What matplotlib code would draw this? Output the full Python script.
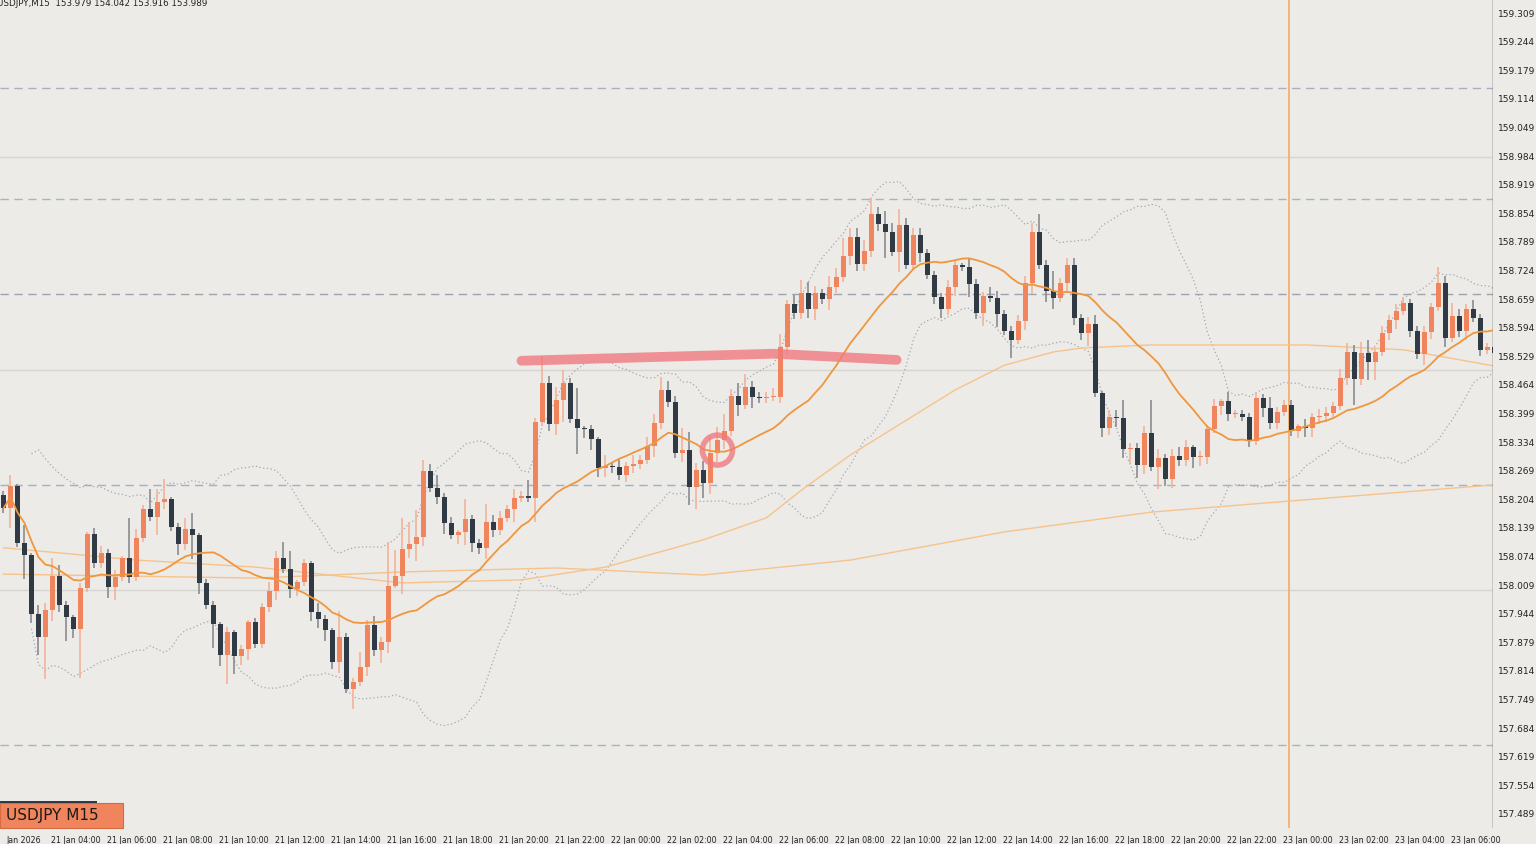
import numpy as np
import pandas as pd
import matplotlib
matplotlib.use("Agg")
import matplotlib.pyplot as plt
from matplotlib.patches import Ellipse, Rectangle

first_open = 158.215
closes = [158.186,158.236,158.107,158.080,157.946,157.893,157.955,158.032,157.966,157.939,
157.911,158.005,158.127,158.061,158.084,158.007,158.030,158.073,158.030,158.118,
158.184,158.166,158.200,158.207,158.143,158.105,158.139,158.125,158.016,157.966,
157.923,157.852,157.905,157.850,157.866,157.927,157.877,157.961,157.998,158.073,
158.048,158.002,158.018,158.061,157.950,157.934,157.909,157.836,157.893,157.775,
157.791,157.825,157.921,157.864,157.882,158.009,158.032,158.093,158.105,158.121,
158.271,158.232,158.211,158.152,158.125,158.132,158.161,158.107,158.096,158.155,
158.136,158.164,158.184,158.209,158.214,158.209,158.382,158.471,158.377,158.432,
158.471,158.389,158.368,158.366,158.343,158.277,158.282,158.280,158.261,158.282,
158.286,158.296,158.327,158.380,158.455,158.427,158.311,158.318,158.234,158.273,
158.243,158.311,158.341,158.361,158.441,158.421,158.461,158.439,158.436,158.439,
158.439,158.552,158.650,158.630,158.675,158.639,158.675,158.661,158.689,158.711,
158.759,158.802,158.741,158.771,158.855,158.832,158.814,158.768,158.830,158.739,
158.807,158.766,158.716,158.666,158.639,158.689,158.739,158.734,158.696,158.630,
158.668,158.664,158.627,158.589,158.568,158.611,158.698,158.814,158.739,158.680,
158.664,158.698,158.739,158.618,158.584,158.605,158.448,158.368,158.393,158.391,
158.321,158.323,158.284,158.357,158.280,158.300,158.252,158.305,158.296,158.325,
158.302,158.302,158.366,158.418,158.430,158.400,158.400,158.393,158.339,158.436,
158.414,158.380,158.405,158.421,158.361,158.373,158.368,158.393,158.396,158.402,
158.418,158.482,158.541,158.480,158.539,158.518,158.541,158.584,158.614,158.634,
158.652,158.589,158.536,158.586,158.643,158.698,158.573,158.623,158.589,158.639,
158.618,158.546,158.552,158.539]

upper_wick = [10,25,5,40,5,20,15,40,25,10, 5,10,5,15,15,10,15,5,90,20,
10,45,30,45,5,10,25,35,5,10, 10,5,10,5,10,5,10,10,20,15,
35,40,5,10,5,20,10,5,60,10, 10,35,10,20,10,100,60,70,50,60,
25,15,30,10,15,5,45,10,10,40, 15,15,10,20,10,35,10,60,15,30,
30,10,70,5,10,5,25,10,15,10, 20,10,20,20,30,20,15,50,40,15,
20,40,30,40,15,30,30,15,10,10, 20,30,10,20,30,25,15,10,25,20,
40,20,20,25,35,15,30,20,35,15, 15,15,10,10,10,15,10,5,20,10,
10,20,15,10,10,15,15,20,40,10, 45,10,15,15,10,15,20,5,15,15,
40,10,10,15,75,20,10,15,20,15, 5,15,10,15,5,20,10,10,10,15,
10,25,10,10,10,5,15,10,15,15, 10,20,20,15,25,30,10,15,10,15,
15,10,10,15,10,35,15,30,15,10, 20,10,10,10]
lower_wick = [10,45,10,55,20,40,95,25,15,55, 20,110,10,10,10,25,30,10,15,10,
10,10,40,15,10,25,15,55,25,10, 55,25,65,40,20,25,10,10,10,20,
10,20,15,10,20,20,25,15,25,10, 45,10,20,15,30,25,5,40,20,40,
20,10,15,25,10,20,30,20,15,25, 15,10,10,30,10,10,55,10,15,25,
50,10,60,20,25,20,20,15,10,15, 15,10,10,25,15,10,10,20,40,50,
35,25,20,20,10,25,10,25,10,10, 10,15,15,15,15,20,25,10,25,15,
10,20,15,15,15,15,60,10,45,10, 10,20,10,15,20,15,20,10,30,15,
30,10,30,10,40,10,20,25,10,25, 25,10,20,15,15,30,10,20,15,20,
20,35,30,20,10,50,15,20,15,15, 25,20,15,10,20,15,10,10,15,10,
20,15,15,10,10,15,20,20,15,15, 10,10,15,60,15,40,40,10,15,20,
10,15,10,25,15,10,20,10,15,20, 10,15,10,40]

ma100_idx = [0,19,36,57,74,86,100,109,114,121,129,136,143,150,154,164,186,200,213]
ma100_val = [158.096,158.068,158.052,158.016,158.023,158.052,158.114,158.164,158.227,158.307,
             158.386,158.455,158.511,158.541,158.550,158.557,158.557,158.546,158.509]
ma200_idx = [0,36,57,79,100,121,143,164,186,213]
ma200_val = [158.036,158.027,158.041,158.050,158.034,158.068,158.132,158.177,158.205,158.239]

level_idx = [74,110,127.6]
level_val = [158.521,158.537,158.523]

yticks = [round(159.309 - 0.065*k, 3) for k in range(29)]
xlabels = ["21 Jan 04:00","21 Jan 06:00","21 Jan 08:00","21 Jan 10:00","21 Jan 12:00","21 Jan 14:00",
           "21 Jan 16:00","21 Jan 18:00","21 Jan 20:00","21 Jan 22:00","22 Jan 00:00","22 Jan 02:00",
           "22 Jan 04:00","22 Jan 06:00","22 Jan 08:00","22 Jan 10:00","22 Jan 12:00","22 Jan 14:00",
           "22 Jan 16:00","22 Jan 18:00","22 Jan 20:00","22 Jan 22:00","23 Jan 00:00","23 Jan 02:00",
           "23 Jan 04:00","23 Jan 06:00"]

c = np.array(closes)
n = len(c)
o = np.concatenate([[first_open], c[:-1]])
h = np.maximum(o, c) + np.array(upper_wick[:n]) / 1000
l = np.minimum(o, c) - np.array(lower_wick[:n]) / 1000
s = pd.Series(c)
ma = s.rolling(20, min_periods=1).mean()
sd = s.rolling(20, min_periods=5).std(ddof=0)
bbu, bbl = ma + 2 * sd, ma - 2 * sd

bg = "#ECEBE7"
fig = plt.figure(figsize=(15.36, 8.44), dpi=100, facecolor=bg)
ax = fig.add_axes([0, 16/844, 1493/1536, 828/844], facecolor=bg)
ax.set_xlim(-0.5, 212.8)
ax.set_ylim(157.459, 159.341)

for y in [158.984, 158.50, 158.00]:
    ax.axhline(y, color="#D6D5D0", lw=1, zorder=0)
for y, col in [(159.141, "#A9AFC0"), (158.889, "#9FBFA5"), (158.672, "#A0A3AE"),
               (158.239, "#9FB0CC"), (157.648, "#9FBFA5")]:
    ax.axhline(y, color=col, lw=1, ls=(0, (6, 4)), zorder=0)
ax.axvline(183.7, color="#F5B070", lw=1.3, zorder=1)

x = np.arange(n)
ax.plot(x, bbu, color="#A5A6B5", lw=0.9, ls=(0, (1, 2)), zorder=1)
ax.plot(x, bbl, color="#A5A6B5", lw=0.9, ls=(0, (1, 2)), zorder=1)
ax.plot(ma100_idx, ma100_val, color="#F6C38C", lw=1, zorder=1)
ax.plot(ma200_idx, ma200_val, color="#F6C38C", lw=1, zorder=1)
ax.plot(x, ma, color="#F0963C", lw=1.3, zorder=3)

for i in range(n):
    bull = c[i] >= o[i]
    body = "#F0845C" if bull else "#2F3A45"
    wick = "#F3B29A" if bull else "#8A8C90"
    ax.vlines(i, l[i], h[i], color=wick, lw=1.2, zorder=2)
    lo, hi = min(o[i], c[i]), max(o[i], c[i])
    ax.add_patch(Rectangle((i - 0.36, lo), 0.72, max(hi - lo, 0.002), color=body, zorder=2.5, lw=0))

ax.plot(level_idx, level_val, color="#F07A80", lw=7, alpha=0.8, solid_capstyle="round", zorder=4)
ax.add_patch(Ellipse((102, 158.318), 4.3, 0.068, fill=False, ec="#F07A80", lw=4, alpha=0.8, zorder=4))

ax.set_xticks([])
ax.set_yticks([])
for sp in ax.spines.values():
    sp.set_visible(False)
ax.axvline(212.75, color="#333333", lw=1)

for yv in yticks:
    ax.text(1.003, (yv - 157.459) / (159.341 - 157.459), f"{yv:.3f}", transform=ax.transAxes,
            fontsize=6.5, va="center", ha="left", color="#222222", clip_on=False)
ax.text(0.4, 157.431, "Jan 2026", fontsize=5.7, ha="left", va="center", color="#222222", clip_on=False)
for k, lab in enumerate(xlabels):
    ax.text(10.3 + 8 * k, 157.431, lab, fontsize=5.7, ha="center", va="center", color="#222222", clip_on=False)

ax.text(-0.9, 159.333, "USDJPY,M15  153.979 154.042 153.916 153.989", fontsize=6.3, va="center",
        ha="left", color="#222222", clip_on=False)
fig.patches.append(Rectangle((0, 16/844), 123/1536, 25/844, transform=fig.transFigure,
                             facecolor="#F0845C", edgecolor="#D66A40", lw=0.8, zorder=10))
fig.patches.append(Rectangle((0, 41/844), 97/1536, 2/844, transform=fig.transFigure,
                             facecolor="#2F3A45", zorder=10))
fig.text(6/1536, 28.5/844, "USDJPY M15", fontsize=11, va="center", ha="left", color="#1a1a1a", zorder=11)

fig.savefig("out.png", dpi=100, facecolor=bg)
